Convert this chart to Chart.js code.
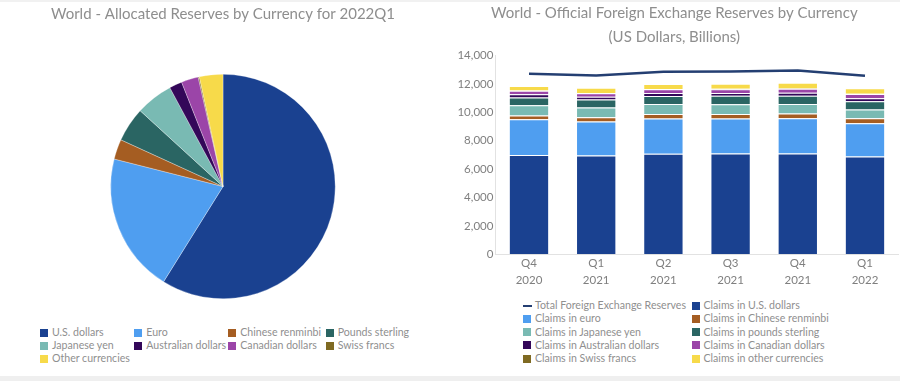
<!DOCTYPE html>
<html>
<head>
<meta charset="utf-8">
<script src="https://cdn.jsdelivr.net/npm/chart.js@4/dist/chart.umd.min.js"></script>
<style>
  html, body { margin:0; padding:0; background:#fff; }
  body { width:900px; height:381px; position:relative; overflow:hidden; font-family: Lato, "Open Sans", sans-serif; }
  #topbar { position:absolute; left:0; top:0; width:900px; height:2px; background:#f1f1f1; }
  #botbar { position:absolute; left:0; top:376px; width:900px; height:5px; background:#efefef; }
  #pieWrap { position:absolute; left:0; top:0; width:450px; height:300px; }
  #barWrap { position:absolute; left:450px; top:0; width:450px; height:290px; }
  .legend { position:absolute; color:#8f8f8f; font-size:10.6px; line-height:13.3px; }
  .legend .item { position:absolute; white-space:nowrap; }
  .legend .sw { position:absolute; left:0; top:2.5px; width:8px; height:8px; }
  .legend .ln { position:absolute; left:0; top:5.5px; width:9px; height:2.5px; }
  .legend .tx { position:absolute; left:12px; top:0; }
</style>
</head>
<body>
<div id="topbar"></div>
<div id="botbar"></div>
<div id="pieWrap"><canvas id="pie"></canvas></div>
<div id="barWrap"><canvas id="bar"></canvas></div>
<div id="pieLegend" class="legend"></div>
<div id="barLegend" class="legend"></div>
<script>
// ---------- Data ----------
const pieTitle = "World - Allocated Reserves by Currency for 2022Q1";
const pieLabels = ["U.S. dollars","Euro","Chinese renminbi","Pounds sterling","Japanese yen","Australian dollars","Canadian dollars","Swiss francs","Other currencies"];
const pieShares = [58.88, 20.06, 2.88, 4.97, 5.36, 1.84, 2.46, 0.17, 3.38];
const pieColors = ["#1a4190","#4f9ef0","#a55d22","#2a6563","#79bab3","#330759","#9b45a8","#7f6a22","#f7da4a"];

const barTitle = ["World - Official Foreign Exchange Reserves by Currency","(US Dollars, Billions)"];
const quarters = [["Q4","2020"],["Q1","2021"],["Q2","2021"],["Q3","2021"],["Q4","2021"],["Q1","2022"]];
const totalReserves = [12720, 12600, 12850, 12880, 12950, 12570];
const usd   = [6992, 6960, 7074, 7090, 7095, 6889];
const eur   = [2520, 2400, 2484, 2470, 2490, 2347];
const cny   = [266, 287, 321, 320, 337, 337];
const jpy   = [717, 690, 697, 690, 660, 627];
const gbp   = [556, 560, 564, 590, 575, 581];
const aud   = [216, 195, 218, 205, 225, 215];
const cad   = [246, 245, 262, 265, 280, 288];
const chf   = [20, 20, 21, 20, 21, 20];
const other = [322, 370, 355, 360, 400, 395];
const barLabels = ["Claims in U.S. dollars","Claims in euro","Claims in Chinese renminbi","Claims in Japanese yen","Claims in pounds sterling","Claims in Australian dollars","Claims in Canadian dollars","Claims in Swiss francs","Claims in other currencies"];
const barColors = ["#1a4190","#4f9ef0","#a55d22","#79bab3","#2a6563","#330759","#9b45a8","#7f6a22","#f7da4a"];
const lineLabel = "Total Foreign Exchange Reserves";
const lineColor = "#243f72";
const yTicks = [0, 2000, 4000, 6000, 8000, 10000, 12000, 14000];

const FONT = "Lato, 'Open Sans', sans-serif";
const GREY = "#8a8a8a";
Chart.defaults.font.family = FONT;
Chart.defaults.color = GREY;
Chart.defaults.animation = false;

// ---------- Pie ----------
const pieChart = new Chart(document.getElementById('pie'), {
  type: 'pie',
  data: { labels: pieLabels, datasets: [{ data: pieShares, backgroundColor: pieColors, borderColor: 'rgba(255,255,255,0.6)', borderWidth: 0.5 }] },
  options: {
    responsive: true, maintainAspectRatio: false,
    layout: { padding: { left: 0, right: 4, top: 0, bottom: 1 } },
    plugins: {
      legend: { display: false },
      tooltip: { enabled: false },
      title: { display: true, text: pieTitle, color: '#8e8e8e', font: { size: 15, family: FONT, weight: 'normal', lineHeight: 1.2 }, padding: { top: 5, bottom: 51 } }
    }
  }
});

// ---------- Bar ----------
const series = [usd, eur, cny, jpy, gbp, aud, cad, chf, other];
const datasets = [{
  type: 'line', label: lineLabel, data: totalReserves, borderColor: lineColor, backgroundColor: lineColor,
  borderWidth: 2.5, pointRadius: 0, stack: 'total', order: 0, tension: 0
}];
series.forEach((s, i) => datasets.push({
  type: 'bar', label: barLabels[i], data: s, backgroundColor: barColors[i],
  borderColor: 'rgba(255,255,255,0.3)', borderWidth: 1, stack: 'cur', order: 1,
  barPercentage: 0.6, categoryPercentage: 1.0
}));

const barChart = new Chart(document.getElementById('bar'), {
  type: 'bar',
  data: { labels: quarters, datasets: datasets },
  options: {
    responsive: true, maintainAspectRatio: false,
    layout: { padding: { left: 0, right: 1.4, top: 0, bottom: 0 } },
    plugins: {
      legend: { display: false },
      tooltip: { enabled: false },
      title: { display: true, text: barTitle, color: '#8e8e8e', font: { size: 15, family: FONT, weight: 'normal', lineHeight: 1.55 }, padding: { top: 2, bottom: 7 } }
    },
    scales: {
      x: {
        stacked: true,
        grid: { display: false, drawTicks: false },
        border: { display: true, color: '#e2e2e2' },
        ticks: { color: '#7f7f7f', font: { size: 11.5, lineHeight: 1.45 }, padding: 1, maxRotation: 0 },
        afterFit: (s) => { s.height = 35.7; }
      },
      y: {
        stacked: true, min: 0, max: 14000,
        grid: { display: false, drawTicks: false },
        border: { display: true, color: '#e2e2e2' },
        afterBuildTicks: (s) => { s.ticks = yTicks.map(v => ({ value: v })); },
        ticks: { color: '#7f7f7f', font: { size: 11.5 }, padding: 2, callback: (v) => v.toLocaleString('en-US') },
        afterFit: (s) => { s.width = 45.4; }
      }
    }
  }
});

// ---------- HTML legends built from data ----------
function buildLegend(el, items, left, top, colX, rowH, cols) {
  el.style.left = left + 'px'; el.style.top = top + 'px';
  items.forEach((it, i) => {
    const r = Math.floor(i / cols), c = i % cols;
    const d = document.createElement('div');
    d.className = 'item';
    d.style.left = colX[c] + 'px'; d.style.top = (r * rowH) + 'px';
    const sw = document.createElement('span');
    sw.className = it.line ? 'ln' : 'sw';
    sw.style.background = it.color;
    const tx = document.createElement('span');
    tx.className = 'tx'; tx.textContent = it.label;
    d.appendChild(sw); d.appendChild(tx);
    el.appendChild(d);
  });
}
buildLegend(document.getElementById('pieLegend'),
  pieLabels.map((l, i) => ({ label: l, color: pieColors[i] })),
  40, 326, [0, 94.3, 188.3, 285.7], 13.2, 4);
buildLegend(document.getElementById('barLegend'),
  [{ label: lineLabel, color: lineColor, line: true }].concat(barLabels.map((l, i) => ({ label: l, color: barColors[i] }))),
  523, 299, [0, 168.5], 13.3, 2);
</script>
</body>
</html>
